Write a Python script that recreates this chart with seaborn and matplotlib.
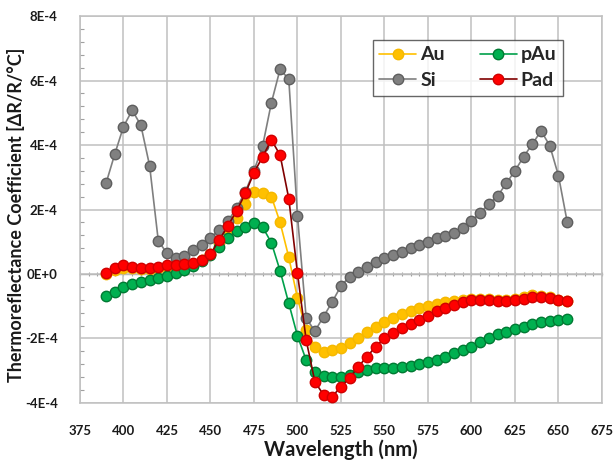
import numpy as np
import pandas as pd
import matplotlib
matplotlib.use('Agg')
import matplotlib.pyplot as plt
import seaborn as sns
from matplotlib.ticker import MultipleLocator, FixedLocator, FixedFormatter

# wavelengths in nm, values in units of 1E-4 per degree C
wavelength = list(range(390, 656, 5))

au = [0.00, 0.12, 0.20, 0.18, 0.17, 0.17, 0.20, 0.22, 0.24, 0.27,
      0.30, 0.42, 0.62, 0.95, 1.32, 1.75, 2.18, 2.55, 2.52, 2.40,
      1.60, 0.52, -0.75, -1.74, -2.25, -2.41, -2.36, -2.30, -2.15, -1.97,
      -1.80, -1.63, -1.48, -1.36, -1.24, -1.14, -1.05, -0.98, -0.93, -0.88,
      -0.84, -0.80, -0.79, -0.77, -0.79, -0.82, -0.80, -0.77, -0.72, -0.66,
      -0.68, -0.72, -0.80, -0.84]

pau = [-0.68, -0.55, -0.41, -0.32, -0.26, -0.19, -0.11, -0.05, 0.03, 0.12,
       0.25, 0.40, 0.58, 0.84, 1.12, 1.32, 1.47, 1.59, 1.45, 0.97,
       0.10, -0.91, -1.92, -2.67, -3.03, -3.16, -3.18, -3.18, -3.13, -3.03,
       -2.98, -2.93, -2.92, -2.90, -2.88, -2.85, -2.80, -2.74, -2.67, -2.56,
       -2.46, -2.36, -2.25, -2.12, -1.98, -1.87, -1.80, -1.72, -1.63, -1.55,
       -1.49, -1.45, -1.42, -1.40]

si = [2.82, 3.72, 4.57, 5.08, 4.61, 3.36, 1.03, 0.64, 0.51, 0.56,
      0.74, 0.90, 1.13, 1.36, 1.64, 2.05, 2.55, 3.20, 3.98, 5.31,
      6.35, 6.04, 1.80, -1.37, -1.77, -1.32, -0.86, -0.37, -0.08, 0.07,
      0.23, 0.38, 0.51, 0.59, 0.69, 0.80, 0.90, 1.00, 1.11, 1.18,
      1.28, 1.44, 1.65, 1.90, 2.17, 2.42, 2.81, 3.20, 3.64, 4.03,
      4.44, 3.98, 3.05, 1.62]

pad = [0.03, 0.18, 0.27, 0.22, 0.20, 0.20, 0.23, 0.27, 0.27, 0.30,
       0.33, 0.42, 0.62, 1.05, 1.50, 1.95, 2.50, 3.14, 3.64, 4.16,
       3.69, 2.34, 0.02, -2.05, -3.34, -3.75, -3.80, -3.49, -3.23, -2.87,
       -2.56, -2.25, -1.99, -1.82, -1.68, -1.55, -1.43, -1.30, -1.15, -1.05,
       -0.96, -0.88, -0.82, -0.80, -0.82, -0.85, -0.83, -0.80, -0.76, -0.70,
       -0.72, -0.75, -0.82, -0.85]

series_names = ['Au', 'pAu', 'Si', 'Pad']
x_ticks = list(range(375, 676, 25))
y_ticks = [-4e-4, -2e-4, 0.0, 2e-4, 4e-4, 6e-4, 8e-4]
y_tick_labels = ['-4E-4', '-2E-4', '0E+0', '2E-4', '4E-4', '6E-4', '8E-4']

# line colour, marker face, marker edge
styles = {
    'Au': ('#ffc000', '#ffc000', '#f5b800'),
    'pAu': ('#00a04a', '#00b050', '#007a33'),
    'Si': ('#7f7f7f', '#808080', '#5e5e5e'),
    'Pad': ('#800000', '#ff0000', '#d00000'),
}

sns.set_theme(style='white')
plt.rcParams['font.family'] = ['Lato', 'DejaVu Sans']

fig = plt.figure(figsize=(6.13, 4.63), dpi=100)
ax = fig.add_axes([0.1305, 0.1296, 0.8515, 0.8358])

grid_col = '#c0c0c0'
values = {'Au': au, 'pAu': pau, 'Si': si, 'Pad': pad}
for z, name in enumerate(series_names):
    line_c, face_c, edge_c = styles[name]
    sns.lineplot(x=wavelength, y=np.array(values[name]) * 1e-4, ax=ax,
                 color=line_c, linewidth=1.2, marker='o', markersize=7.5,
                 markerfacecolor=face_c, markeredgecolor=edge_c,
                 markeredgewidth=1.0, label=name, zorder=3 + z)

ax.set_xlim(375, 675)
ax.set_ylim(-4e-4, 8e-4)
ax.xaxis.set_major_locator(FixedLocator(x_ticks))
ax.yaxis.set_major_locator(FixedLocator(y_ticks))
ax.yaxis.set_major_formatter(FixedFormatter(y_tick_labels))
ax.yaxis.set_minor_locator(MultipleLocator(0.4e-4))

ax.grid(True, which='major', color=grid_col, linewidth=1.1)
ax.set_axisbelow(True)
for sp in ax.spines.values():
    sp.set_color(grid_col)
    sp.set_linewidth(1.1)

ax.tick_params(axis='both', which='major', length=0, pad=16, labelsize=9.5,
               labelcolor='#1a1a1a')
ax.tick_params(axis='y', which='minor', left=True, direction='in', length=3,
               color='#a0a0a0', width=0.8)
for lab in ax.get_xticklabels() + ax.get_yticklabels():
    lab.set_fontweight('bold')

# horizontal axis crossing at zero, with minor ticks every 5 nm
zero_axis = ax.secondary_xaxis(1 / 3)
zero_axis.xaxis.set_major_locator(MultipleLocator(5))
zero_axis.tick_params(axis='x', which='both', length=3, direction='inout',
                      color='#a0a0a0', width=0.8,
                      labelbottom=False, labeltop=False)
for sp in zero_axis.spines.values():
    sp.set_color('#a8a8a8')
    sp.set_linewidth(1.0)

ax.set_xlabel('Wavelength (nm)', fontsize=14.5, fontweight='bold',
              color='#1a1a1a')
ax.xaxis.set_label_coords(0.5, -0.095)
ax.set_ylabel('Thermoreflectance Coefficient [ΔR/R/°C]', fontsize=13,
              fontweight='bold', color='#1a1a1a')
ax.yaxis.set_label_coords(-0.105, 0.485)

handles, labels = ax.get_legend_handles_labels()
order = [labels.index(n) for n in ['Au', 'Si', 'pAu', 'Pad']]
leg = ax.legend([handles[i] for i in order], [labels[i] for i in order],
                ncol=2, loc='upper left',
                bbox_to_anchor=(0.542, 0.788, 0.402, 0.176), mode='expand',
                frameon=True, fancybox=False, edgecolor='#404040',
                prop={'weight': 'bold', 'size': 14}, handlelength=1.9,
                handletextpad=0.2, borderpad=0.35, labelspacing=0.45,
                columnspacing=1.0)
leg.get_frame().set_linewidth(1.0)
leg.set_zorder(10)

fig.savefig('out.png', dpi=100, facecolor='white')
